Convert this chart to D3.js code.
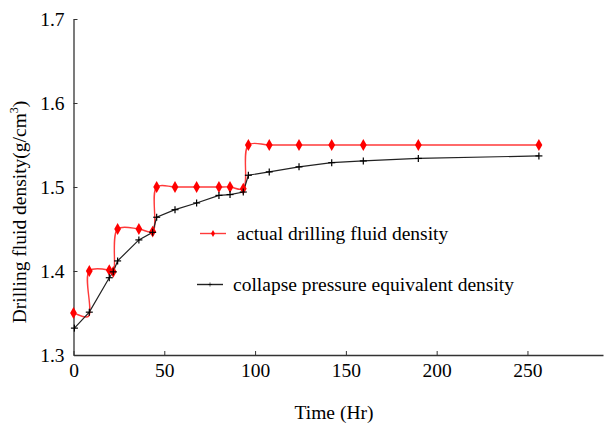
<!DOCTYPE html>
<html>
<head>
<meta charset="utf-8">
<script src="https://cdn.jsdelivr.net/npm/d3@7"></script>
<style>
  body { margin: 0; background: #fff; }
</style>
</head>
<body>
<div id="chart"></div>
<script>
// actual drilling fluid density (hr, g/cm3)
const actualTime = [0, 1.2, 8.2, 8.7, 19.7, 21.9, 24.3, 36, 43.6, 45.8, 55.9, 67.8, 80.1, 86.2, 93.5, 96.3, 107.8, 124.2, 142.2, 159.6, 189.9, 256.3];
const actualDensity = [1.350, 1.349, 1.346, 1.400, 1.401, 1.399, 1.450, 1.450, 1.447, 1.500, 1.500, 1.500, 1.500, 1.500, 1.498, 1.550, 1.550, 1.550, 1.550, 1.550, 1.550, 1.550];
// collapse pressure equivalent density
const collapseTime = [0.5, 8.7, 19.7, 21.9, 24.3, 36, 43.6, 45.8, 55.9, 67.8, 80.1, 86.2, 93.5, 96.3, 107.8, 124.2, 142.2, 159.6, 189.9, 256.3];
const collapseDensity = [1.332, 1.351, 1.392, 1.399, 1.412, 1.437, 1.446, 1.464, 1.473, 1.481, 1.490, 1.491, 1.494, 1.514, 1.518, 1.524, 1.529, 1.531, 1.534, 1.537];

const xTicks = [0, 50, 100, 150, 200, 250];
const yTicks = [1.3, 1.4, 1.5, 1.6, 1.7];

const W = 606, H = 430;
const x0 = 73.5, x1 = 603, y0 = 355, y1 = 19;
const FONT = "Liberation Serif";
const FS = 19.5;

const svg = d3.select("#chart").append("svg")
  .attr("width", W).attr("height", H);

const x = d3.scaleLinear().domain([0, 291.6]).range([x0, x1]);
const y = d3.scaleLinear().domain([1.3, 1.7]).range([y0, y1]);

// axes
const xAxis = svg.append("g")
  .attr("transform", `translate(0,${y0})`)
  .call(d3.axisBottom(x).tickValues(xTicks).tickSize(-4).tickPadding(8).tickSizeOuter(0));
const yAxis = svg.append("g")
  .attr("transform", `translate(${x0},0)`)
  .call(d3.axisLeft(y).tickValues(yTicks).tickFormat(d3.format(".1f")).tickSize(-4).tickPadding(9).tickSizeOuter(0));

[xAxis, yAxis].forEach(g => {
  g.attr("font-family", FONT).attr("font-size", FS);
  g.select(".domain").attr("stroke", "#333").attr("stroke-width", 1.3);
  g.selectAll(".tick line").attr("stroke", "#333");
  g.selectAll("text").attr("fill", "#000");
});

const actual = actualTime.map((t, i) => [t, actualDensity[i]]);
const collapse = collapseTime.map((t, i) => [t, collapseDensity[i]]);

const redLine = d3.line().x(d => x(d[0])).y(d => y(d[1])).curve(d3.curveCatmullRom.alpha(0.5));
const blackLine = d3.line().x(d => x(d[0])).y(d => y(d[1]));

svg.append("path").datum(actual)
  .attr("d", redLine).attr("fill", "none")
  .attr("stroke", "#ff3a3a").attr("stroke-width", 1.4);

svg.append("path").datum(collapse)
  .attr("d", blackLine).attr("fill", "none")
  .attr("stroke", "#222").attr("stroke-width", 1.2);

const diamond = d3.symbol().type(d3.symbolDiamond).size(40);

svg.append("g").selectAll("path")
  .data(actual.filter((d, i) => i !== 1 && i !== 2))
  .join("path")
  .attr("transform", d => `translate(${x(d[0])},${y(d[1])})`)
  .attr("d", diamond).attr("fill", "#ff0000");

function cross(g) {
  g.append("line").attr("x1", -3.5).attr("x2", 3.5).attr("y1", 0).attr("y2", 0);
  g.append("line").attr("x1", 0).attr("x2", 0).attr("y1", -3.5).attr("y2", 3.5);
}
svg.append("g").attr("stroke", "#000").attr("stroke-width", 1.2)
  .selectAll("g").data(collapse).join("g")
  .attr("transform", d => `translate(${x(d[0])},${y(d[1])})`)
  .each(function () { cross(d3.select(this)); });

// legend
const legend = [
  { label: "actual drilling fluid density", color: "#ff3a3a", y: 233.5, xa: 200, xb: 226, tx: 236.5 },
  { label: "collapse pressure equivalent density", color: "#222", y: 284.5, xa: 197, xb: 223, tx: 233 }
];
legend.forEach((l, i) => {
  svg.append("line").attr("x1", l.xa).attr("x2", l.xb).attr("y1", l.y).attr("y2", l.y)
    .attr("stroke", l.color).attr("stroke-width", 1.4);
  if (i === 0) {
    svg.append("path").attr("transform", `translate(${(l.xa + l.xb) / 2},${l.y})`)
      .attr("d", d3.symbol().type(d3.symbolDiamond).size(14)).attr("fill", "#ff0000");
  } else {
    svg.append("g").attr("stroke", "#000").attr("stroke-width", 1)
      .attr("transform", `translate(${(l.xa + l.xb) / 2},${l.y}) scale(0.6)`)
      .call(cross);
  }
  svg.append("text").attr("x", l.tx).attr("y", l.y + 6)
    .attr("font-family", FONT).attr("font-size", FS).text(l.label);
});

// axis titles
svg.append("text").attr("x", 334).attr("y", 419)
  .attr("font-family", FONT).attr("text-anchor", "middle").attr("font-size", FS).text("Time (Hr)");

const yl = svg.append("text")
  .attr("transform", `translate(26,212) rotate(-90)`)
  .attr("font-family", FONT).attr("text-anchor", "middle").attr("font-size", FS);
yl.append("tspan").text("Drilling fluid density(g/cm");
yl.append("tspan").attr("font-size", 12).attr("dy", -8).text("3");
yl.append("tspan").attr("dy", 8).text(")");
</script>
</body>
</html>
